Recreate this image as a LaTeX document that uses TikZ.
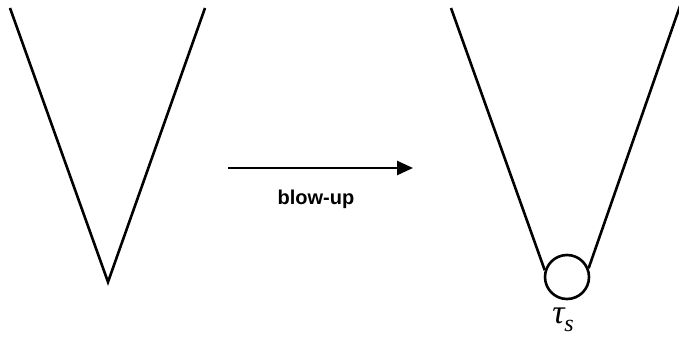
\documentclass[tikz,border=0pt]{standalone}
\usepackage{fontspec}
\setmainfont{Liberation Serif}
\setsansfont{Liberation Sans}
\usetikzlibrary{arrows.meta}
\begin{document}
\begin{tikzpicture}[x=1pt,y=-1pt,
  vline/.style={line width=2.6pt},
  lbl/.style={font=\sffamily\bfseries\fontsize{20}{24}\selectfont}]
\useasboundingbox (0,0) rectangle (679,340);
\coordinate (a1) at (10,8);
\coordinate (a2) at (108,282);
\coordinate (a3) at (205,8);
\draw[vline, line join=miter] (a1) -- (a2) -- (a3);
\coordinate (s) at (228,168);
\coordinate (e) at (413,168);
\draw[vline, -{Triangle[length=16pt,width=14pt]}] (s) -- (e);
\node[lbl] (bl) at (316,199) {blow-up};
\node[circle, draw, line width=2.6pt, minimum size=44pt, inner sep=0pt] (c) at (567,277) {};
\coordinate (b1) at (451,8);
\coordinate (b2) at (680,6);
\draw[vline] (b1) -- (c.163);
\draw[vline] (c.22) -- (b2);
\node[inner sep=0pt] (tau) at (563,320) {\fontsize{34}{38}\selectfont\itshape τ\raisebox{-0.22em}{\fontsize{24}{26}\selectfont s}};
\end{tikzpicture}
\end{document}
